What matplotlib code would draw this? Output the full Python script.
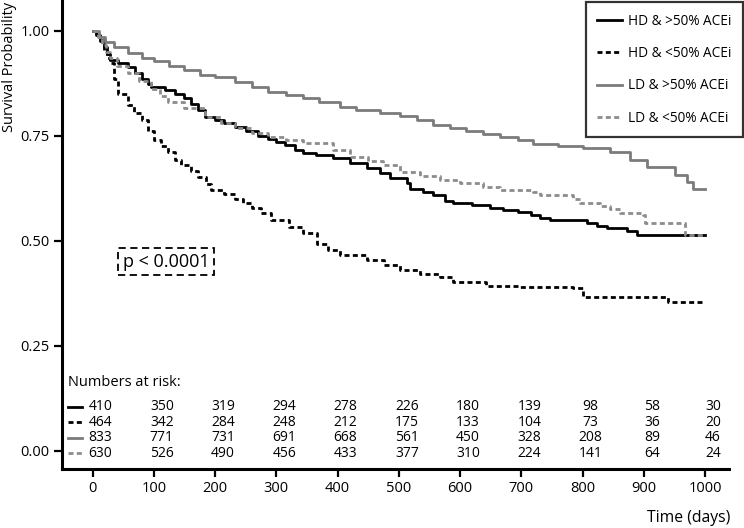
import matplotlib
matplotlib.use("Agg")
import matplotlib.pyplot as plt
from matplotlib.lines import Line2D

plt.rcParams['font.family'] = ['Open Sans', 'DejaVu Sans']

# ---- data ----
t_hd_hi = [0, 5, 12, 18, 24, 28, 41, 57, 70, 80, 90, 96, 118, 135, 150, 160, 172, 183, 200, 215, 232, 250, 270, 286, 300, 314, 330, 343, 365, 392, 420, 448, 470, 485, 513, 518, 540, 556, 575, 588, 620, 649, 670, 694, 715, 730, 747, 807, 823, 840, 872, 889, 1000]
s_hd_hi = [1.0, 0.99, 0.975, 0.96, 0.945, 0.93, 0.922, 0.914, 0.90, 0.885, 0.872, 0.866, 0.858, 0.848, 0.839, 0.825, 0.81, 0.795, 0.788, 0.78, 0.771, 0.76, 0.75, 0.743, 0.735, 0.727, 0.715, 0.708, 0.703, 0.696, 0.685, 0.672, 0.66, 0.648, 0.636, 0.622, 0.615, 0.608, 0.595, 0.589, 0.585, 0.577, 0.573, 0.569, 0.56, 0.553, 0.549, 0.542, 0.535, 0.529, 0.523, 0.513, 0.513]

t_hd_lo = [0, 5, 11, 18, 24, 28, 35, 41, 57, 68, 80, 90, 101, 112, 123, 134, 145, 160, 172, 185, 194, 215, 232, 245, 260, 275, 292, 320, 343, 366, 385, 404, 448, 475, 502, 535, 567, 588, 643, 694, 784, 801, 937, 940, 1000]
s_hd_lo = [1.0, 0.99, 0.977, 0.955, 0.935, 0.922, 0.885, 0.850, 0.823, 0.805, 0.787, 0.762, 0.739, 0.725, 0.711, 0.692, 0.680, 0.665, 0.652, 0.635, 0.620, 0.610, 0.600, 0.59, 0.577, 0.565, 0.549, 0.533, 0.517, 0.493, 0.478, 0.465, 0.454, 0.442, 0.430, 0.42, 0.414, 0.402, 0.392, 0.390, 0.386, 0.366, 0.366, 0.354, 0.354]

t_ld_hi = [0, 10, 20, 35, 57, 80, 100, 125, 150, 175, 200, 232, 260, 286, 315, 343, 370, 404, 430, 470, 502, 530, 555, 583, 610, 637, 665, 694, 719, 760, 801, 845, 877, 905, 951, 970, 980, 1000]
s_ld_hi = [1.0, 0.985, 0.973, 0.96, 0.946, 0.935, 0.928, 0.917, 0.906, 0.895, 0.889, 0.878, 0.866, 0.854, 0.847, 0.839, 0.83, 0.819, 0.812, 0.805, 0.796, 0.787, 0.776, 0.767, 0.76, 0.755, 0.747, 0.739, 0.731, 0.726, 0.720, 0.711, 0.692, 0.676, 0.656, 0.640, 0.624, 0.624]

t_ld_lo = [0, 8, 15, 22, 28, 40, 57, 75, 96, 110, 123, 150, 183, 210, 232, 260, 286, 315, 343, 392, 420, 450, 474, 502, 535, 567, 600, 637, 665, 719, 730, 784, 796, 828, 845, 861, 899, 902, 964, 967, 1000]
s_ld_lo = [1.0, 0.985, 0.965, 0.948, 0.934, 0.915, 0.898, 0.88, 0.862, 0.845, 0.831, 0.815, 0.795, 0.78, 0.767, 0.756, 0.747, 0.74, 0.733, 0.715, 0.70, 0.69, 0.680, 0.664, 0.655, 0.644, 0.636, 0.628, 0.620, 0.616, 0.608, 0.600, 0.590, 0.582, 0.575, 0.565, 0.561, 0.542, 0.542, 0.513, 0.513]

labels = ["HD & >50% ACEi", "HD & <50% ACEi", "LD & >50% ACEi", "LD & <50% ACEi"]
risk_times = [0, 100, 200, 300, 400, 500, 600, 700, 800, 900, 1000]
risk_hd_hi = [410, 350, 319, 294, 278, 226, 180, 139, 98, 58, 30]
risk_hd_lo = [464, 342, 284, 248, 212, 175, 133, 104, 73, 36, 20]
risk_ld_hi = [833, 771, 731, 691, 668, 561, 450, 328, 208, 89, 46]
risk_ld_lo = [630, 526, 490, 456, 433, 377, 310, 224, 141, 64, 24]

x_ticks = [0, 100, 200, 300, 400, 500, 600, 700, 800, 900, 1000]
y_ticks = [0.0, 0.25, 0.50, 0.75, 1.00]
y_ticklabels = ["0.00", "0.25", "0.50", "0.75", "1.00"]

# ---- styles ----
BLACK = "#000000"
GRAY = "#7b7b7b"
GRAY2 = "#8c8c8c"
DASH = (0, (1.8, 1.2))
styles = [
    dict(color=BLACK, ls="-"),
    dict(color=BLACK, ls=DASH),
    dict(color=GRAY, ls="-"),
    dict(color=GRAY2, ls=DASH),
]
LW = 2.0

W, H = 744, 528
fig = plt.figure(figsize=(W / 100, H / 100), dpi=100)
ax = fig.add_axes([62 / W, (H - 469) / H, (729 - 62) / W, 469 / H])

series = [(t_hd_hi, s_hd_hi), (t_hd_lo, s_hd_lo), (t_ld_hi, s_ld_hi), (t_ld_lo, s_ld_lo)]
for (t, s), st in zip(series, styles):
    ax.plot(t, s, drawstyle="steps-post", lw=LW, **st)

ax.set_xlim(-50, 1039)
ax.set_ylim(-0.044, 1.073)
ax.set_xticks(x_ticks)
ax.set_yticks(y_ticks)
ax.set_yticklabels(y_ticklabels)
for side in ["top", "right"]:
    ax.spines[side].set_visible(False)
for side in ["left", "bottom"]:
    ax.spines[side].set_linewidth(2.2)
ax.tick_params(axis="both", direction="out", length=6, width=1.6, labelsize=10.5, pad=3, color="black")

# risk table
ax.text(-40, 0.161, "Numbers at risk:", fontsize=10.5, ha="left", va="center")
row_y = [0.104, 0.067, 0.030, -0.007]
risks = [risk_hd_hi, risk_hd_lo, risk_ld_hi, risk_ld_lo]
for ry, rk, st in zip(row_y, risks, styles):
    ax.plot([-41, -18], [ry, ry], lw=LW, **st)
    for tt, n in zip(risk_times, rk):
        ax.text(tt + 13, ry, str(n), fontsize=10, ha="center", va="center")

# p-value box
ax.text(120, 0.45, "p < 0.0001", fontsize=13, ha="center", va="center",
        bbox=dict(boxstyle="square,pad=0.25", fc="white", ec="black", lw=1.3, ls=(0, (4, 2.5))))

# legend
handles = [Line2D([0], [0], lw=LW, **st) for st in styles]
leg = fig.legend(handles, labels, loc="upper right", bbox_to_anchor=(743 / W, 1 - 2 / H),
                 frameon=True, fancybox=False, fontsize=9.8, handlelength=1.8,
                 labelspacing=1.28, borderpad=0.85, handletextpad=0.45, borderaxespad=0)
leg.get_frame().set_edgecolor("black")
leg.get_frame().set_linewidth(1.6)

fig.text(10 / W, 1 - 67 / H, "Survival Probability", rotation=90, fontsize=10.5,
         ha="center", va="center")
fig.text(730 / W, 1 - 518 / H, "Time (days)", fontsize=11.3, ha="right", va="center")

fig.savefig("out.png", dpi=100)
